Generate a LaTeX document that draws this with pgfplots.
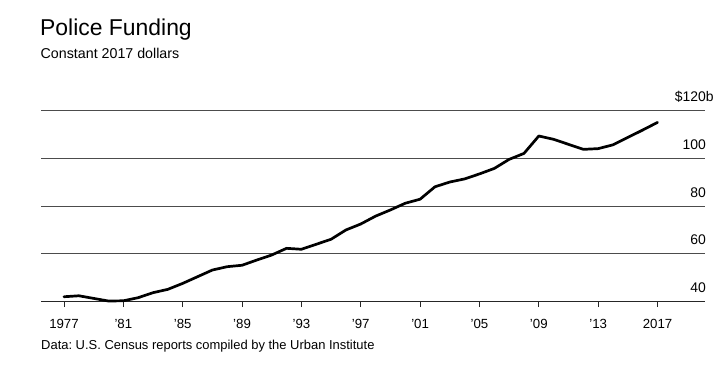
\documentclass[border=0pt]{standalone}
\usepackage{pgfplots}
\pgfplotsset{compat=1.18}
\usepackage{fontspec}
\setmainfont{Liberation Sans}
\frenchspacing
\pgfplotstableread{
year value
1977 42.0
1978 42.4
1979 41.3
1980 40.2
1981 40.3
1982 41.6
1983 43.7
1984 45.1
1985 47.6
1986 50.4
1987 53.2
1988 54.6
1989 55.2
1990 57.4
1991 59.5
1992 62.3
1993 61.9
1994 64.0
1995 66.1
1996 70.0
1997 72.5
1998 75.8
1999 78.4
2000 81.2
2001 82.9
2002 88.1
2003 90.1
2004 91.4
2005 93.5
2006 95.8
2007 99.6
2008 102.1
2009 109.4
2010 108.0
2011 105.9
2012 103.8
2013 104.1
2014 105.7
2015 108.8
2016 111.9
2017 115.1
}\police
\begin{document}
\begin{tikzpicture}
\useasboundingbox (0bp,0bp) rectangle (727bp,-366bp);
\node[anchor=base west, inner sep=0pt, font=\fontsize{23}{26}\selectfont] at (40bp,-35bp) {Police Funding};
\node[anchor=base west, inner sep=0pt, font=\fontsize{14.3}{17}\selectfont] at (40.5bp,-58.3bp) {Constant 2017 dollars};
\node[anchor=base west, inner sep=0pt, font=\fontsize{13}{15}\selectfont] at (41bp,-349bp) {Data: U.S. Census reports compiled by the Urban Institute};
\begin{axis}[
  at={(41bp,-301.5bp)}, anchor=south west,
  scale only axis, width=664bp, height=190.8bp,
  xmin=1975.45, xmax=2020.2, ymin=40, ymax=120,
  axis x line*=bottom, axis y line*=right,
  y axis line style={draw=none},
  x axis line style={draw=black!85, line width=1bp},
  xtick={1977,1981,1985,1989,1993,1997,2001,2005,2009,2013,2017},
  xticklabels={1977,'81,'85,'89,'93,'97,'01,'05,'09,'13,2017},
  tick align=outside, major tick length=5.5bp,
  x tick style={draw=black!85, line width=0.9bp},
  xticklabel style={anchor=base, inner sep=0pt, yshift=-21bp, font=\fontsize{13.3}{15}\selectfont},
  ytick={40,60,80,100,120},
  yticklabels={40,60,80,100,{\$120\rlap{b}}},
  y tick style={draw=none},
  yticklabel style={anchor=base east, inner sep=0pt, xshift=-4.5bp, yshift=9bp, font=\fontsize{14}{15}\selectfont},
  ymajorgrids, grid style={draw=black!70, line width=0.9bp},
  clip=false,
]
\addplot[black, line width=2.7bp, line join=round, line cap=round] table[x=year,y=value] {\police};
\end{axis}
\end{tikzpicture}
\end{document}
